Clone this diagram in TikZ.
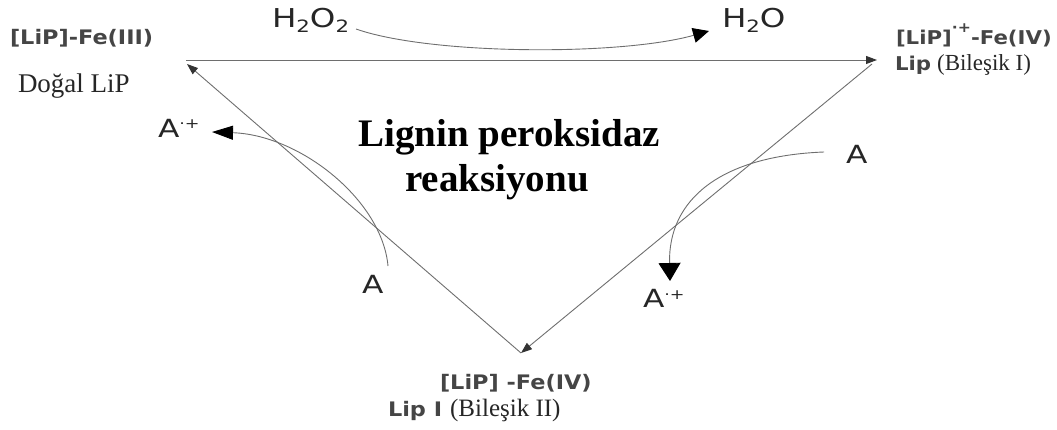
\documentclass[tikz,border=0pt]{standalone}
\usepackage{fontspec}
\setmainfont{Liberation Serif}
\newfontfamily\lipfont[FakeStretch=1.12]{DejaVu Sans}
\newfontfamily\chemfont[FakeStretch=1.25]{DejaVu Sans}
\usetikzlibrary{arrows.meta}
\definecolor{labelgray}{HTML}{454545}
\definecolor{serifgray}{HTML}{262626}
\definecolor{linegray}{HTML}{6E6E6E}
\newcommand{\subtwo}{\raisebox{-5pt}{\fontsize{17}{17}\selectfont 2}}
\newcommand{\radcat}[1]{\raisebox{#1}{\fontsize{14}{14}\selectfont ·+}}
\begin{document}
\begin{tikzpicture}[x=1pt,y=-1pt,
  txt/.style={inner sep=0pt,outer sep=0pt,anchor=base west},
  liplabel/.style={txt,text=labelgray,font=\lipfont\bfseries\fontsize{20}{20}\selectfont},
  serifnote/.style={txt,text=serifgray,font=\fontsize{27}{27}\selectfont},
  chem/.style={txt,text=black!85,font=\chemfont\fontsize{26}{26}\selectfont},
  species/.style={txt,text=black!85,font=\chemfont\fontsize{25}{25}\selectfont},
  title/.style={inner sep=0pt,anchor=base,text=black,font=\bfseries\fontsize{39}{39}\selectfont},
  cycle/.style={draw=linegray,line width=0.9pt,-{Triangle[length=11pt,width=8pt,black!80]}},
  sidecurve/.style={draw=linegray,line width=0.9pt},
]
\useasboundingbox (0,0) rectangle (1057,430);

% corners of the catalytic cycle
\coordinate (topL) at (186,60);
\coordinate (topR) at (877,60);
\coordinate (leftEnd) at (187,64);
\coordinate (rightStart) at (872,64);
\coordinate (bottom) at (521,353);

% enzyme states
\node[liplabel] (lipIII) at (10,45) {[LiP]-Fe(III)};
\node[serifnote] (dogal) at (18,93) {Doğal LiP};
\node[liplabel,font=\lipfont\bfseries\fontsize{19}{19}\selectfont] (lipIVa) at (896,45) {[LiP]\radcat{12pt}-Fe(IV)};
\node[txt] (lipBI) at (895,71) {{\color{labelgray}\lipfont\bfseries\fontsize{19}{19}\selectfont Lip}\hspace{6pt}{\color{serifgray}\fontsize{23}{23}\selectfont(Bileşik I)}};
\node[liplabel] (lipIVb) at (440,389) {[LiP] -Fe(IV)};
\node[txt] (lipBII) at (388,416) {{\color{labelgray}\lipfont\bfseries\fontsize{20}{20}\selectfont Lip I}\hspace{8pt}{\color{serifgray}\fontsize{25}{25}\selectfont(Bileşik II)}};

% peroxide step
\node[chem] (h2o2) at (272,28) {H\subtwo O\subtwo};
\node[chem] (h2o) at (722,28) {H\subtwo O};

% substrate oxidations
\node[species] (apL) at (158,138) {A\radcat{9pt}};
\node[species] (aL) at (362,294) {A};
\node[species] (aR) at (846,164) {A};
\node[species] (apR) at (643,308) {A\radcat{9pt}};

% title
\node[title] (t1) at (509,147) {Lignin peroksidaz};
\node[title] (t2) at (497,192) {reaksiyonu};

% the cycle
\draw[cycle] (topL) -- (topR);
\draw[cycle] (rightStart) -- (bottom);
\draw[cycle] (bottom) -- (leftEnd);

% side reactions
\coordinate (h2o2end) at (356,29);
\coordinate (h2otip) at (709,31);
\draw[sidecurve,-{Triangle[length=16pt,width=15pt,black]}] (h2o2end) .. controls (430,55) and (620,56) .. (h2otip);

\coordinate (aLstart) at (388,266);
\coordinate (apLtip) at (212,132);
\draw[sidecurve,-{Triangle[length=21pt,width=14pt,black]}] (aLstart) .. controls (382,200) and (300,135) .. (apLtip);

\coordinate (aRstart) at (824,152);
\coordinate (apRtip) at (670,281);
\draw[sidecurve,-{Triangle[length=18pt,width=22pt,black]}] (aRstart) .. controls (720,156) and (668,200) .. (apRtip);
\end{tikzpicture}
\end{document}
